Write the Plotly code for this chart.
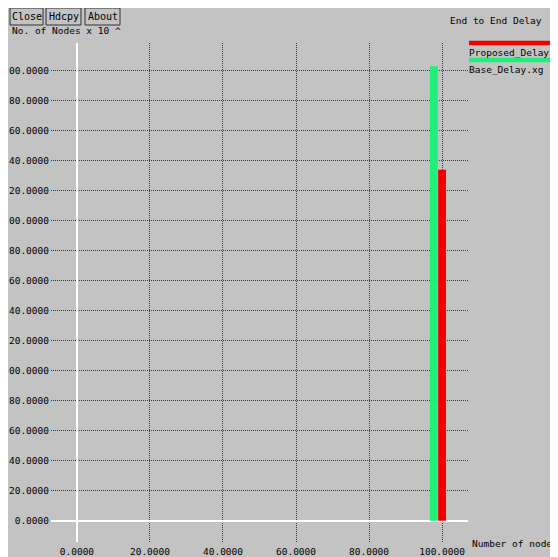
import plotly.graph_objects as go

# ---- data ----
series_names = ["Base_Delay.xg", "Proposed_Delay.xg"]
base_x = [97.75]
base_y = [303.0]
proposed_x = [100.0]
proposed_y = [234.0]
bar_width = 2.15

x_tick_vals = [0, 20, 40, 60, 80, 100]
y_tick_vals = list(range(0, 301, 20))
x_tick_text = [f"{v:.4f}" for v in x_tick_vals]
# left part of the y labels is cut off by the window edge in the reference
y_tick_text = [f"{v:.4f}"[-7:] for v in y_tick_vals]

title_text = "End to End Delay"
x_label = "Number of nodes"
y_label = "No. of Nodes x 10 ^"
buttons = ["Close", "Hdcpy", "About"]

# ---- layout helpers (positions given in screenshot pixels) ----
OFF = 8  # page body margin
W_PX, H_PX = 550, 549
PL, PR, PT, PB = 51, 468, 43, 542  # plot area edges in screenshot pixels
L = PL - OFF
T = PT - OFF
R = W_PX - (PR - OFF)
B = H_PX - (PB - OFF)
PW, PH = W_PX - L - R, H_PX - T - B


def px(x):
    return (x - OFF - L) / PW


def py(y):
    return 1 - (y - OFF - T) / PH


BG = "#c3c3c3"
FONT = "DejaVu Sans Mono"
GREEN = "#1ff07a"
RED = "#f20000"

fig = go.Figure()
fig.add_trace(go.Bar(x=base_x, y=base_y, width=bar_width, marker_color=GREEN,
                     marker_line_width=0, name=series_names[0]))
fig.add_trace(go.Bar(x=proposed_x, y=proposed_y, width=bar_width, marker_color=RED,
                     marker_line_width=0, name=series_names[1]))

shapes = []
annotations = []

# y label under the buttons
annotations.append(dict(text=y_label, xref="paper", yref="paper", x=px(10), y=py(30),
                        xanchor="left", yanchor="middle", showarrow=False,
                        font=dict(family=FONT, size=9.5, color="black")))

# buttons
btn_x = [(10, 43), (46, 81), (85, 120)]
for name, (a, b) in zip(buttons, btn_x):
    shapes.append(dict(type="rect", xref="paper", yref="paper", x0=px(a), x1=px(b),
                       y0=py(25), y1=py(8), fillcolor=BG, line=dict(color="#303030", width=1),
                       layer="above"))
    annotations.append(dict(text=name, xref="paper", yref="paper", x=px((a + b) / 2), y=py(16.5),
                            xanchor="center", yanchor="middle", showarrow=False,
                            font=dict(family=FONT, size=10, color="black")))

# title
annotations.append(dict(text=title_text, xref="paper", yref="paper", x=px(448), y=py(20),
                        xanchor="left", yanchor="middle", showarrow=False,
                        font=dict(family=FONT, size=9.5, color="black")))

# legend (xgraph style: line above the name)
leg = [(series_names[1], RED, 43, 52), (series_names[0], GREEN, 60, 69)]
for name, col, ly, ty in leg:
    shapes.append(dict(type="line", xref="paper", yref="paper", x0=px(469), x1=px(W_PX + 20),
                       y0=py(ly), y1=py(ly), line=dict(color=col, width=4.5)))
    annotations.append(dict(text=name, xref="paper", yref="paper", x=px(467), y=py(ty),
                            xanchor="left", yanchor="middle", showarrow=False,
                            font=dict(family=FONT, size=9.5, color="black")))

# x axis label
annotations.append(dict(text=x_label, xref="paper", yref="paper", x=px(470), y=py(543),
                        xanchor="left", yanchor="middle", showarrow=False,
                        font=dict(family=FONT, size=9.5, color="black")))

x0_range = -7.1
x1_range = 107.1
y0_range = -14.2
y1_range = 318.5

fig.update_layout(
    width=W_PX, height=H_PX,
    margin=dict(l=L, r=R, t=T, b=B, pad=0),
    paper_bgcolor=BG, plot_bgcolor=BG,
    showlegend=False,
    barmode="overlay",
    shapes=shapes, annotations=annotations,
    font=dict(family=FONT, size=9.5, color="black"),
    xaxis=dict(range=[x0_range, x1_range], tickvals=x_tick_vals, ticktext=x_tick_text,
               showgrid=True, gridcolor="#3a3a3a", griddash="1px,1px", gridwidth=1,
               zeroline=True, zerolinecolor="white", zerolinewidth=1.5,
               showline=False, ticks="", automargin=False, ticklabelstandoff=2,
               tickfont=dict(family=FONT, size=9.5, color="black")),
    yaxis=dict(range=[y0_range, y1_range], tickvals=y_tick_vals, ticktext=y_tick_text,
               showgrid=True, gridcolor="#3a3a3a", griddash="1px,1px", gridwidth=1,
               zeroline=True, zerolinecolor="white", zerolinewidth=2,
               showline=False, ticks="", automargin=False, ticklabelstandoff=1,
               tickfont=dict(family=FONT, size=9.5, color="black")),
)

fig.write_html("out.html", config={"displayModeBar": False})
